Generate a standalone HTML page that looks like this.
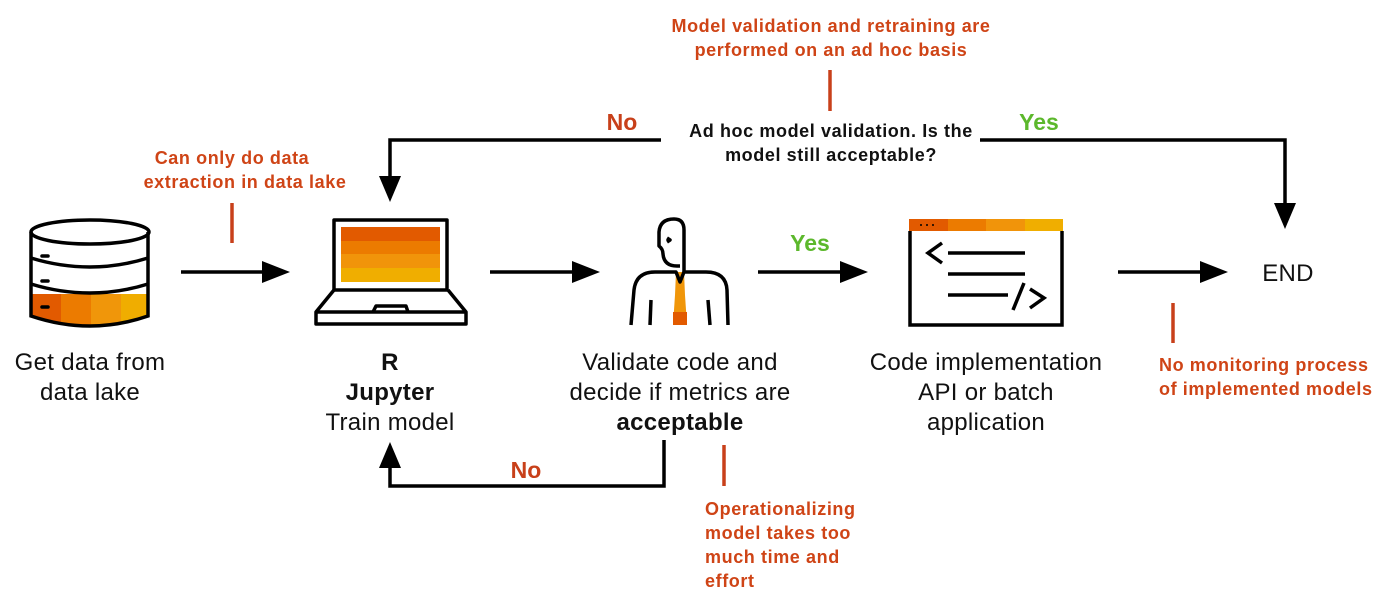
<!DOCTYPE html>
<html><head><style>
body{margin:0;background:#fff}
svg text{font-family:"Liberation Sans",sans-serif}
.r{fill:#cf4416;font-weight:bold;font-size:18px;letter-spacing:0.6px}
.b{fill:#111;font-size:24px;letter-spacing:0.3px}
</style></head><body>
<svg width="1383" height="608" viewBox="0 0 1383 608" xmlns="http://www.w3.org/2000/svg">
<defs><clipPath id="db"><path d="M31,232 L31,316 Q90,336 148,316 L148,232z"/></clipPath></defs>
<g stroke="#000" stroke-width="3.5" fill="none">
<line x1="181" y1="272" x2="262" y2="272"/><path d="M262,261 L290,272 L262,283z" fill="#000" stroke="none"/>
<line x1="490" y1="272" x2="572" y2="272"/><path d="M572,261 L600,272 L572,283z" fill="#000" stroke="none"/>
<line x1="758" y1="272" x2="840" y2="272"/><path d="M840,261 L868,272 L840,283z" fill="#000" stroke="none"/>
<line x1="1118" y1="272" x2="1200" y2="272"/><path d="M1200,261 L1228,272 L1200,283z" fill="#000" stroke="none"/>
<polyline points="661,140 390,140 390,178"/><path d="M379,176 L390,202 L401,176z" fill="#000" stroke="none"/>
<polyline points="980,140 1285,140 1285,205"/><path d="M1274,203 L1285,229 L1296,203z" fill="#000" stroke="none"/>
<polyline points="664,440 664,486 390,486 390,466"/><path d="M379,468 L390,442 L401,468z" fill="#000" stroke="none"/>
</g>
<g stroke="#c8401a" stroke-width="3.5">
<line x1="232" y1="203" x2="232" y2="243"/>
<line x1="830" y1="70" x2="830" y2="111"/>
<line x1="724" y1="445" x2="724" y2="486"/>
<line x1="1173" y1="303" x2="1173" y2="343"/>
</g>
<!-- database -->
<g clip-path="url(#db)">
<rect x="31" y="294" width="30" height="40" fill="#e25a00"/>
<rect x="61" y="294" width="30" height="40" fill="#ec7b00"/>
<rect x="91" y="294" width="30" height="40" fill="#f0960a"/>
<rect x="121" y="294" width="27" height="40" fill="#f0ad00"/>
</g>
<g stroke="#000" stroke-width="3.5" fill="none">
<ellipse cx="90" cy="232" rx="59" ry="12" fill="#fff"/>
<path d="M31,232 L31,316 Q90,336 148,316 L148,232"/>
<path d="M31,258 Q90,276 148,258"/>
<path d="M31,284 Q90,302 148,284"/>
</g>
<g stroke="#000" stroke-width="3.5" stroke-linecap="round"><line x1="42" y1="256" x2="48" y2="256"/><line x1="42" y1="281" x2="48" y2="281"/><line x1="42" y1="307" x2="48" y2="307"/></g>
<!-- laptop -->
<rect x="341" y="227" width="99" height="14" fill="#e25a00"/>
<rect x="341" y="241" width="99" height="13" fill="#ec7b00"/>
<rect x="341" y="254" width="99" height="14" fill="#f1940a"/>
<rect x="341" y="268" width="99" height="14" fill="#f0ae00"/>
<g stroke="#000" stroke-width="3.5" fill="none" stroke-linejoin="round">
<rect x="334" y="220" width="113" height="70"/>
<path d="M334,290 L316,312 L316,324 L466,324 L466,312 L448,290"/>
<line x1="316" y1="312" x2="466" y2="312"/>
<path d="M373,312 L376,306 L406,306 L408,312"/>
</g>
<!-- person -->
<path d="M676,272 L684,272 L685,295 L687,325 L673,325 L675,295z" fill="#f0960a"/>
<rect x="673" y="312" width="14" height="13" fill="#e25a00"/>
<g stroke="#000" stroke-width="3.5" fill="none" stroke-linejoin="round">
<path d="M684,272 L684,230 Q684,219 674,219 Q660,219 659,232 L659,246 Q663,249 663,254 Q664,266 677,266 L680,266"/>
<path d="M631,325 L634,290 Q636,272 655,272 L676,272 L680,282 L684,272 L706,272 Q726,272 727,290 L728,325"/>
<line x1="651" y1="300" x2="650" y2="325"/><line x1="708" y1="300" x2="710" y2="325"/>
<path d="M667,238 L670,240 L667,242"/>
</g>
<!-- code window -->
<rect x="909" y="219" width="39" height="12" fill="#e25a00"/>
<rect x="948" y="219" width="38" height="12" fill="#ec7b00"/>
<rect x="986" y="219" width="39" height="12" fill="#f1940a"/>
<rect x="1025" y="219" width="38" height="12" fill="#f0ae00"/>
<g fill="#000"><circle cx="921" cy="225" r="1"/><circle cx="927" cy="225" r="1"/><circle cx="933" cy="225" r="1"/></g>
<g stroke="#000" stroke-width="3.5" fill="none">
<path d="M910,231 L910,325 L1062,325 L1062,231"/>
<path d="M942,243 L928,253 L942,263"/>
<line x1="948" y1="253" x2="1025" y2="253"/>
<line x1="948" y1="274" x2="1025" y2="274"/>
<line x1="948" y1="295" x2="1008" y2="295"/>
<line x1="1024" y1="283" x2="1013" y2="310"/>
<path d="M1030,289 L1044,298 L1030,308"/>
</g>
<g class="b" text-anchor="middle">
<text x="90" y="370">Get data from</text><text x="90" y="400">data lake</text>
<text x="390" y="370" font-weight="bold">R</text><text x="390" y="400" font-weight="bold">Jupyter</text><text x="390" y="430">Train model</text>
<text x="680" y="370">Validate code and</text><text x="680" y="400">decide if metrics are</text><text x="680" y="430" font-weight="bold">acceptable</text>
<text x="986" y="370">Code implementation</text><text x="986" y="400">API or batch</text><text x="986" y="430">application</text>
<text x="1288" y="281">END</text>
</g>
<g class="r" text-anchor="middle">
<text x="831" y="32">Model validation and retraining are</text>
<text x="831" y="56">performed on an ad hoc basis</text>
<text x="232" y="164">Can only do data</text>
<text x="245" y="188">extraction in data lake</text>
</g>
<g class="r">
<text x="705" y="515">Operationalizing</text><text x="705" y="539">model takes too</text><text x="705" y="563">much time and</text><text x="705" y="587">effort</text>
<text x="1159" y="371">No monitoring process</text><text x="1159" y="395">of implemented models</text>
</g>
<g text-anchor="middle" font-weight="bold" font-size="18" fill="#111" letter-spacing="0.6">
<text x="831" y="137">Ad hoc model validation. Is the</text>
<text x="831" y="161">model still acceptable?</text>
</g>
<g font-size="23" text-anchor="middle" font-weight="bold">
<text x="622" y="130" fill="#c8401a">No</text>
<text x="526" y="478" fill="#c8401a">No</text>
<text x="1039" y="130" fill="#5cb82c">Yes</text>
<text x="810" y="251" fill="#5cb82c">Yes</text>
</g>
</svg>
</body></html>
